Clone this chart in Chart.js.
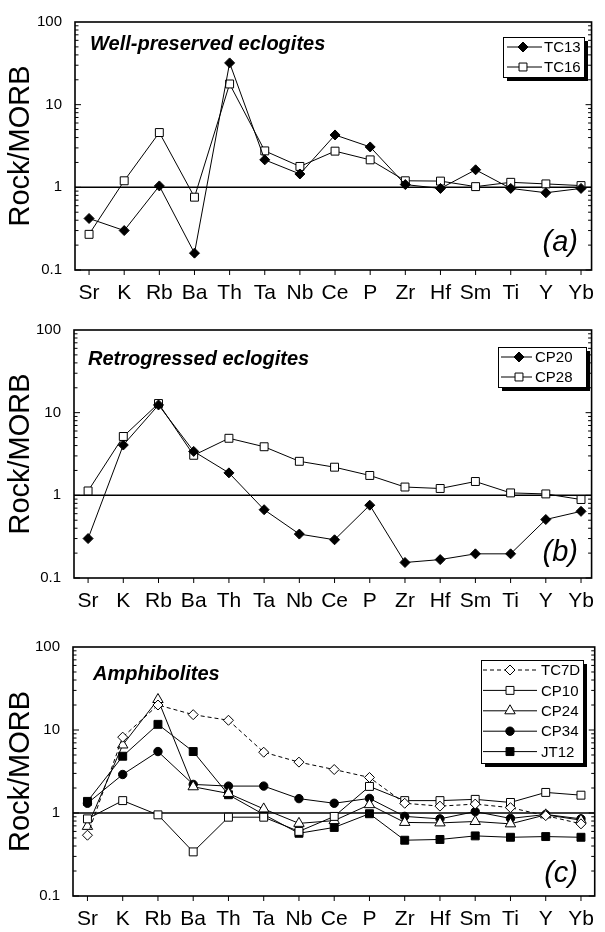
<!DOCTYPE html>
<html>
<head>
<meta charset="utf-8">
<title>Rock/MORB spider diagrams</title>
<script src="https://cdn.jsdelivr.net/npm/chart.js@4.4.1/dist/chart.umd.min.js"></script>
<style>
  html, body { margin: 0; padding: 0; background: #fff; }
  #page { position: relative; width: 605px; height: 932px; overflow: hidden; }
  canvas { position: absolute; left: 0; }
</style>
</head>
<body>
<div id="page">
  <canvas id="chartA" width="605" height="310" style="top:0px"></canvas>
  <canvas id="chartB" width="605" height="310" style="top:308px"></canvas>
  <canvas id="chartC" width="605" height="307" style="top:625px"></canvas>
</div>
<script>
// element order along the x axis
const elements = ['Sr', 'K', 'Rb', 'Ba', 'Th', 'Ta', 'Nb', 'Ce', 'P', 'Zr', 'Hf', 'Sm', 'Ti', 'Y', 'Yb'];
const yTicks = [0.1, 1, 10, 100];

// (a) well-preserved eclogites
const tc13 = [0.42, 0.30, 1.04, 0.16, 32, 2.15, 1.45, 4.3, 3.08, 1.08, 0.97, 1.63, 0.97, 0.86, 0.97];
const tc16 = [0.27, 1.20, 4.6, 0.76, 17.8, 2.76, 1.79, 2.74, 2.15, 1.20, 1.19, 1.02, 1.15, 1.10, 1.05];

// (b) retrogressed eclogites
const cp20 = [0.30, 4.06, 12.4, 3.4, 1.87, 0.67, 0.34, 0.29, 0.76, 0.154, 0.167, 0.196, 0.196, 0.51, 0.64];
const cp28 = [1.13, 5.15, 12.9, 3.05, 4.9, 3.87, 2.58, 2.19, 1.74, 1.26, 1.21, 1.47, 1.07, 1.04, 0.89];

// (c) amphibolites
const tc7d = [0.54, 8.2, 20, 15.3, 13.1, 5.4, 4.1, 3.34, 2.68, 1.31, 1.21, 1.28, 1.16, 0.93, 0.74];
const cp10 = [0.85, 1.41, 0.95, 0.34, 0.89, 0.89, 0.60, 0.91, 2.09, 1.41, 1.41, 1.46, 1.34, 1.77, 1.64];
const cp24 = [0.69, 6.6, 23.3, 2.07, 1.72, 1.12, 0.75, 0.81, 1.26, 0.77, 0.76, 0.79, 0.74, 0.95, 0.82];
const cp34 = [1.31, 2.91, 5.5, 2.21, 2.11, 2.11, 1.49, 1.31, 1.50, 0.91, 0.85, 1.04, 0.86, 0.96, 0.85];
const jt12 = [1.38, 4.83, 11.7, 5.5, 1.66, 0.96, 0.57, 0.67, 0.98, 0.47, 0.48, 0.53, 0.51, 0.52, 0.51];

const FONT = '"Liberation Sans", Arial, Helvetica, sans-serif';
const NARROW = '"Liberation Sans Narrow", "Liberation Sans", Arial, sans-serif';

// marker looks
const markers = {
  diamondFilled: { pointStyle: 'rectRot', pointRadius: 5, fill: '#000' },
  diamondOpen:   { pointStyle: 'rectRot', pointRadius: 5, fill: '#fff' },
  squareOpen:    { pointStyle: 'rect', pointRadius: 5.6, fill: '#fff' },
  squareFilled:  { pointStyle: 'rect', pointRadius: 5.6, fill: '#000' },
  triangleOpen:  { pointStyle: 'triangle', pointRadius: 6, fill: '#fff' },
  circleFilled:  { pointStyle: 'circle', pointRadius: 4.2, fill: '#000' }
};

const series = (label, values, marker, dashed) => {
  const m = markers[marker];
  return {
    label: label,
    data: values.map((v, i) => ({ x: i, y: v })),
    borderColor: '#000',
    borderWidth: 1,
    borderDash: dashed ? [4, 3] : [],
    pointStyle: m.pointStyle,
    pointRadius: m.pointRadius,
    pointBackgroundColor: m.fill,
    pointBorderColor: '#000',
    pointBorderWidth: 1,
    tension: 0,
    fill: false
  };
};

const line = (ctx, x1, y1, x2, y2) => {
  ctx.beginPath();
  ctx.moveTo(x1, y1);
  ctx.lineTo(x2, y2);
  ctx.stroke();
};

// frame, unity line, ticks, panel title, tag and boxed legend
const decorPlugin = {
  id: 'decor',
  beforeDatasetsDraw(chart, args, opts) {
    const { ctx, chartArea: a, scales: { x, y } } = chart;
    ctx.save();
    ctx.strokeStyle = '#000';
    ctx.lineWidth = 1.5;
    const y1 = y.getPixelForValue(1);
    line(ctx, a.left, y1, a.right, y1);

    ctx.lineWidth = 1;
    for (let d = 0.1; d < 100; d *= 10) {
      for (let k = 1; k <= 9; k++) {
        const py = y.getPixelForValue(k * d);
        const len = k === 1 ? 6 : 3.5;
        line(ctx, a.left, py, a.left + len, py);
        line(ctx, a.right, py, a.right - len, py);
      }
    }
    elements.forEach((_, i) => {
      const px = x.getPixelForValue(i);
      line(ctx, px, a.bottom, px, a.bottom + 5);
    });

    ctx.lineWidth = 1.6;
    ctx.strokeRect(a.left, a.top, a.right - a.left, a.bottom - a.top);
    ctx.restore();
  },
  afterDraw(chart, args, opts) {
    const { ctx, chartArea: a } = chart;
    ctx.save();
    ctx.fillStyle = '#000';
    ctx.textBaseline = 'alphabetic';

    ctx.font = 'italic bold 20px ' + FONT;
    ctx.textAlign = 'left';
    ctx.fillText(opts.title, opts.titleX, opts.titleY);

    ctx.font = 'italic 29px ' + FONT;
    ctx.textAlign = 'right';
    ctx.fillText(opts.tag, 578, opts.tagY);

    // legend box with drop shadow
    const lg = opts.legend;
    ctx.fillRect(lg.left + 4, lg.top + 4, lg.width, lg.height);
    ctx.fillStyle = '#fff';
    ctx.fillRect(lg.left, lg.top, lg.width, lg.height);
    ctx.strokeStyle = '#000';
    ctx.lineWidth = 1;
    ctx.strokeRect(lg.left + 0.5, lg.top + 0.5, lg.width, lg.height);

    ctx.font = '15px ' + FONT;
    ctx.textAlign = 'left';
    ctx.textBaseline = 'middle';
    chart.data.datasets.forEach((ds, i) => {
      const ry = lg.firstRow + i * lg.rowGap;
      ctx.strokeStyle = '#000';
      ctx.lineWidth = 1;
      ctx.setLineDash(ds.borderDash);
      line(ctx, lg.lineFrom, ry, lg.lineTo, ry);
      ctx.setLineDash([]);
      ctx.fillStyle = ds.pointBackgroundColor;
      Chart.helpers.drawPoint(ctx, {
        pointStyle: ds.pointStyle,
        radius: ds.pointRadius,
        rotation: 0,
        borderWidth: 1
      }, lg.mark, ry);
      ctx.fillStyle = '#000';
      ctx.fillText(ds.label, lg.text, ry + 1);
    });
    ctx.restore();
  }
};

function makePanel(id, datasets, box, xRange, deco) {
  const canvas = document.getElementById(id);
  const H = canvas.height;
  return new Chart(canvas, {
    type: 'line',
    data: { datasets: datasets },
    plugins: [decorPlugin],
    options: {
      responsive: false,
      animation: false,
      events: [],
      layout: { padding: { left: 0, right: 605 - box.right, top: box.top, bottom: 0 } },
      plugins: {
        legend: { display: false },
        tooltip: { enabled: false },
        decor: deco
      },
      scales: {
        x: {
          type: 'linear',
          min: xRange[0],
          max: xRange[1],
          afterBuildTicks: s => { s.ticks = elements.map((_, i) => ({ value: i })); },
          afterFit: s => { s.height = H - box.bottom; },
          grid: { display: false, drawTicks: false },
          border: { display: false },
          ticks: {
            autoSkip: false,
            maxRotation: 0,
            padding: 11,
            color: '#000',
            font: { family: NARROW, size: 21 },
            callback: v => elements[v]
          }
        },
        y: {
          type: 'logarithmic',
          min: 0.1,
          max: 100,
          afterBuildTicks: s => { s.ticks = yTicks.map(v => ({ value: v })); },
          afterFit: s => { s.width = box.left; },
          grid: { display: false, drawTicks: false },
          border: { display: false },
          ticks: {
            autoSkip: false,
            padding: 13,
            color: '#000',
            font: { family: FONT, size: 15 },
            callback: v => String(v)
          },
          title: {
            display: true,
            text: 'Rock/MORB',
            color: '#000',
            font: { family: FONT, size: 29 },
            padding: { top: 4, bottom: 0 }
          }
        }
      }
    }
  });
}

makePanel('chartA', [
  series('TC13', tc13, 'diamondFilled'),
  series('TC16', tc16, 'squareOpen')
], { left: 75, top: 21, right: 600, bottom: 270 }, [-0.4, 14.3], {
  title: 'Well-preserved eclogites', titleX: 90, titleY: 50,
  tag: '(a)', tagY: 251,
  legend: { left: 503, top: 37, width: 81, height: 40, firstRow: 47, rowGap: 20,
            lineFrom: 507, lineTo: 542, mark: 523, text: 544 }
});

makePanel('chartB', [
  series('CP20', cp20, 'diamondFilled'),
  series('CP28', cp28, 'squareOpen')
], { left: 74, top: 20, right: 600, bottom: 270 }, [-0.4, 14.3], {
  title: 'Retrogressed eclogites', titleX: 88, titleY: 57,
  tag: '(b)', tagY: 253,
  legend: { left: 498, top: 39, width: 88, height: 40, firstRow: 49, rowGap: 20,
            lineFrom: 501, lineTo: 532, mark: 519, text: 535 }
});

makePanel('chartC', [
  series('TC7D', tc7d, 'diamondOpen', true),
  series('CP10', cp10, 'squareOpen'),
  series('CP24', cp24, 'triangleOpen'),
  series('CP34', cp34, 'circleFilled'),
  series('JT12', jt12, 'squareFilled')
], { left: 73, top: 20, right: 600, bottom: 271 }, [-0.41, 14.39], {
  title: 'Amphibolites', titleX: 93, titleY: 55,
  tag: '(c)', tagY: 257,
  legend: { left: 481, top: 35, width: 102, height: 103, firstRow: 45, rowGap: 20.4,
            lineFrom: 483, lineTo: 537, mark: 510, text: 541 }
});
</script>
</body>
</html>
